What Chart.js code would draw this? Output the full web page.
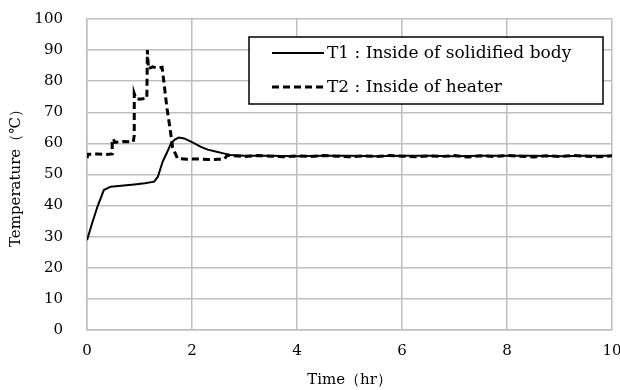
<!DOCTYPE html>
<html lang="en">
<head>
  <meta charset="UTF-8">
  <title>Temperature vs Time</title>
  <script src="https://cdn.jsdelivr.net/npm/chart.js"></script>
  <style>
    html, body { margin: 0; padding: 0; background: #fff; }
    #box { width: 620px; height: 390px; }
  </style>
</head>
<body>
  <div id="box"><canvas id="myChart" width="620" height="390"></canvas></div>
<script>
  // T1 : inside of solidified body
  const t1Hours = [0, 0.1, 0.2, 0.32, 0.45, 0.6, 0.9, 1.1, 1.28, 1.35, 1.44, 1.53, 1.6, 1.68, 1.75, 1.85, 2.0, 2.17, 2.3, 2.47, 2.6, 2.73,
    3.0, 3.5, 4.0, 4.5, 5.0, 5.5, 6.0, 6.5, 7.0, 7.5, 8.0, 8.5, 9.0, 9.5, 10];
  const t1Temp = [28.9, 34.5, 39.7, 45.0, 46.1, 46.3, 46.8, 47.2, 47.7, 49.3, 54.1, 57.3, 60.0, 61.3, 61.9, 61.6, 60.4, 58.9, 58.0, 57.3, 56.8, 56.3,
    56.0, 56.0, 55.9, 56.0, 56.0, 55.9, 56.0, 56.0, 55.9, 56.0, 56.0, 56.0, 55.9, 56.0, 56.0];

  // T2 : inside of heater
  const t2Hours = [0, 0.02, 0.2, 0.35, 0.48, 0.48, 0.5, 0.53, 0.7, 0.88, 0.9, 0.9, 0.93, 1.0, 1.14, 1.15, 1.17, 1.25, 1.35, 1.43,
    1.46, 1.52, 1.58, 1.63, 1.66, 1.69, 1.72, 1.9, 2.1, 2.3, 2.5, 2.62, 2.67,
    2.8, 3.0, 3.25, 3.5, 3.75, 4.0, 4.25, 4.5, 4.75, 5.0, 5.25, 5.5, 5.75, 6.0, 6.25, 6.5, 6.75, 7.0, 7.25, 7.5, 7.75,
    8.0, 8.25, 8.5, 8.75, 9.0, 9.25, 9.5, 9.75, 10];
  const t2Temp = [55.3, 56.5, 56.6, 56.4, 56.6, 60.3, 61.5, 60.3, 60.6, 60.5, 62.5, 76.0, 74.5, 74.2, 74.5, 90.0, 84.0, 84.6, 84.2, 84.5,
    80.4, 71.7, 65.0, 58.8, 57.5, 56.5, 55.2, 54.9, 55.0, 54.8, 54.9, 55.0, 56.2,
    56.0, 55.8, 56.1, 55.9, 55.7, 56.0, 55.8, 56.1, 55.9, 55.7, 56.0, 55.8, 56.1, 55.9, 55.7, 56.0, 55.8, 56.1, 55.6,
    56.0, 55.8, 56.1, 55.9, 55.6, 56.0, 55.8, 56.1, 55.9, 55.7, 56.0];

  const seriesNames = ['T1 : Inside of solidified body', 'T2 : Inside of heater'];

  function toPoints(xs, ys) {
    return xs.map((x, i) => ({ x: x, y: ys[i] }));
  }

  const serif = "'DejaVu Serif', 'Liberation Serif', serif";

  // legend drawn as a framed box inside the plot, like the original
  const boxLegend = {
    id: 'boxLegend',
    afterDraw(chart) {
      const ctx = chart.ctx;
      const x0 = 249, y0 = 37, w = 354, h = 67;
      ctx.save();
      ctx.fillStyle = '#fff';
      ctx.fillRect(x0, y0, w, h);
      ctx.strokeStyle = '#000';
      ctx.lineWidth = 1.5;
      ctx.strokeRect(x0, y0, w, h);
      chart.data.datasets.forEach((ds, i) => {
        const y = y0 + 16 + i * 34;
        ctx.beginPath();
        ctx.setLineDash(ds.borderDash || []);
        ctx.lineWidth = ds.borderWidth;
        ctx.strokeStyle = ds.borderColor;
        ctx.moveTo(272, y);
        ctx.lineTo(324, y);
        ctx.stroke();
        ctx.setLineDash([]);
        ctx.fillStyle = '#000';
        ctx.font = '17px ' + serif;
        ctx.textBaseline = 'middle';
        ctx.fillText(ds.label, 327, y + 1);
      });
      ctx.restore();
    }
  };

  const ctx = document.getElementById('myChart').getContext('2d');
  const myChart = new Chart(ctx, {
    type: 'scatter',
    data: {
      datasets: [{
        label: seriesNames[0],
        data: toPoints(t1Hours, t1Temp),
        showLine: true,
        borderColor: '#000',
        borderWidth: 2,
        pointRadius: 0,
        tension: 0
      }, {
        label: seriesNames[1],
        data: toPoints(t2Hours, t2Temp),
        showLine: true,
        borderColor: '#000',
        borderWidth: 3,
        borderDash: [7, 4],
        pointRadius: 0,
        tension: 0
      }]
    },
    options: {
      responsive: false,
      animation: false,
      layout: { padding: { top: 19, right: 8, left: 0, bottom: 0 } },
      plugins: {
        legend: { display: false },
        tooltip: { enabled: false }
      },
      scales: {
        x: {
          type: 'linear',
          min: 0,
          max: 10,
          ticks: { stepSize: 2, color: '#000', padding: 12, font: { family: serif, size: 15 }, maxRotation: 0 },
          grid: { color: '#bfbfbf', lineWidth: 1.5, drawTicks: false },
          border: { color: '#bfbfbf', width: 1.5 },
          title: { display: true, text: 'Time（hr）', color: '#000', font: { family: serif, size: 15 }, padding: { top: 0, bottom: 1 } },
          afterFit: function (s) { s.height = 60; s.paddingLeft = 0; s.paddingRight = 0; }
        },
        y: {
          min: 0,
          max: 100,
          ticks: { stepSize: 10, color: '#000', padding: 24, font: { family: serif, size: 15 } },
          grid: { color: '#bfbfbf', lineWidth: 1.5, drawTicks: false },
          border: { color: '#bfbfbf', width: 1.5 },
          title: { display: true, text: 'Temperature（℃）', color: '#000', font: { family: serif, size: 15 }, padding: { top: 7, bottom: 0 } },
          afterFit: function (s) { s.width = 87; s.paddingTop = 0; s.paddingBottom = 0; }
        }
      }
    },
    plugins: [boxLegend]
  });
</script>
</body>
</html>
